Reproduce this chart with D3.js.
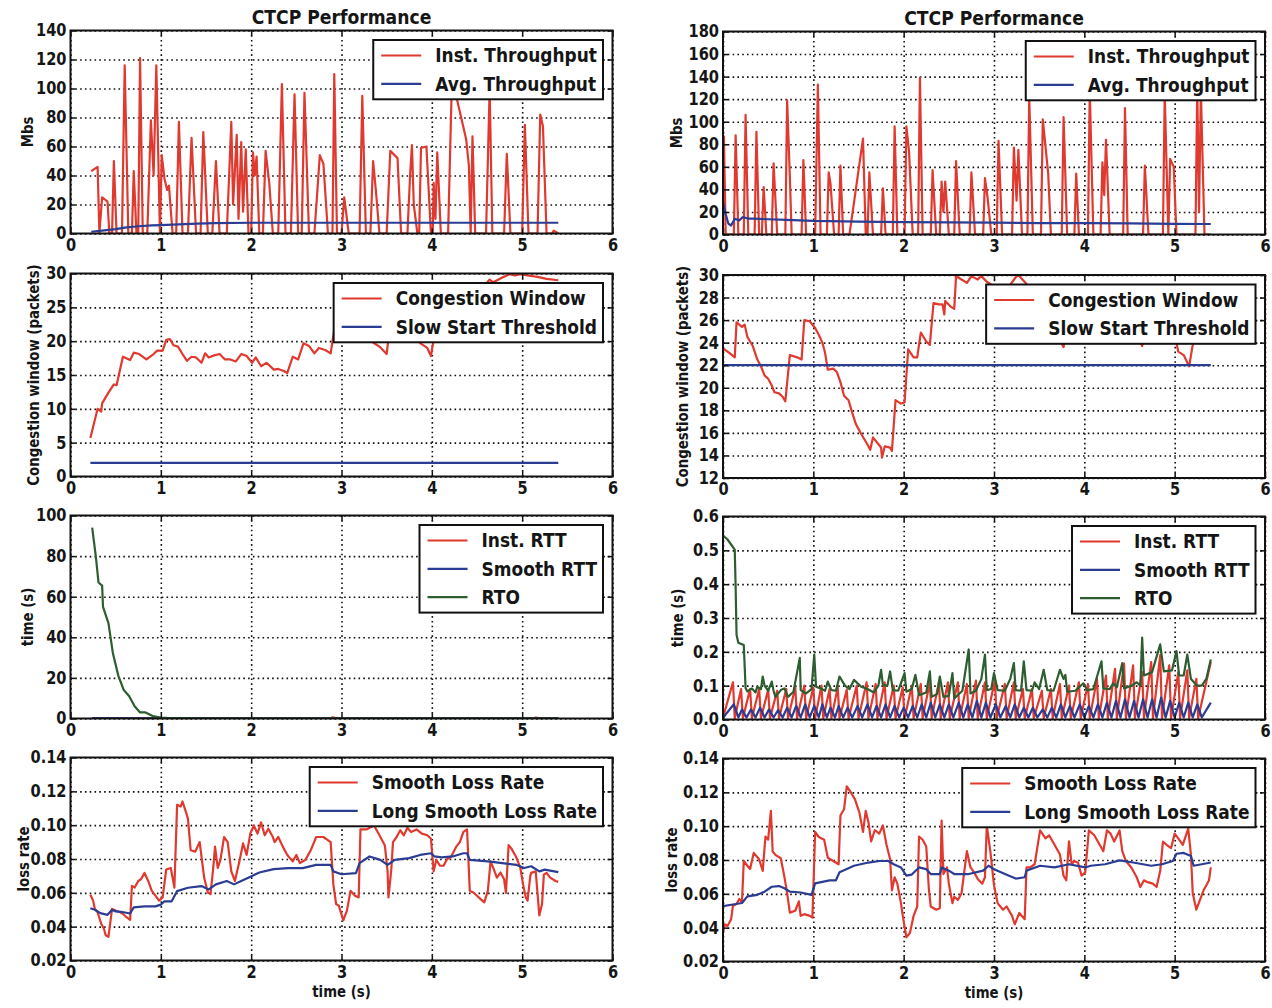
<!DOCTYPE html>
<html>
<head>
<meta charset="utf-8">
<script src="https://cdn.jsdelivr.net/npm/d3@7"></script>
<style>
  body { margin: 0; background: #fff; }
  text { font-family: "DejaVu Sans", "Liberation Sans", sans-serif; font-weight: bold; fill: #151515; }
</style>
</head>
<body>
<svg id="fig" width="1272" height="1008"></svg>
<script>
// ---------- tick values ----------
const timeTicks = [0, 1, 2, 3, 4, 5, 6];
const thrTicksL = [0, 20, 40, 60, 80, 100, 120, 140];
const thrTicksR = [0, 20, 40, 60, 80, 100, 120, 140, 160, 180];
const cwndTicksL = [0, 5, 10, 15, 20, 25, 30];
const cwndTicksR = [12, 14, 16, 18, 20, 22, 24, 26, 28, 30];
const rttTicksL = [0, 20, 40, 60, 80, 100];
const rttTicksR = [0, 0.1, 0.2, 0.3, 0.4, 0.5, 0.6];
const lossTicks = [0.02, 0.04, 0.06, 0.08, 0.10, 0.12, 0.14];

// ---------- throughput (Mbs), [time s, value] ----------
const thrInstL = [[0.23,43],[0.30,46],[0.32,0],[0.35,25],[0.41,22],[0.43,0],[0.46,0],[0.48,50],[0.51,0],[0.57,0],[0.60,116],[0.64,0],[0.68,0],[0.70,43],[0.73,0],[0.75,0],[0.77,121],[0.80,0],[0.85,0],[0.89,78],[0.92,40],[0.95,116],[0.99,0],[1.01,54],[1.04,38],[1.07,30],[1.09,33],[1.13,0],[1.17,0],[1.20,77],[1.24,0],[1.30,0],[1.34,66],[1.39,0],[1.44,0],[1.47,70],[1.52,0],[1.57,0],[1.61,50],[1.65,0],[1.73,0],[1.78,77],[1.80,20],[1.84,68],[1.86,10],[1.89,63],[1.91,15],[1.94,58],[1.97,0],[2.00,0],[2.02,56],[2.04,40],[2.06,53],[2.09,0],[2.13,0],[2.16,57],[2.20,35],[2.24,0],[2.30,0],[2.34,103],[2.38,0],[2.44,0],[2.48,96],[2.52,0],[2.56,0],[2.59,97],[2.64,0],[2.70,0],[2.76,54],[2.80,48],[2.85,0],[2.90,0],[2.92,110],[2.95,0],[3.00,0],[3.03,25],[3.08,0],[3.20,0],[3.23,95],[3.27,0],[3.32,0],[3.35,50],[3.38,30],[3.42,0],[3.50,0],[3.54,57],[3.62,52],[3.66,0],[3.73,0],[3.76,41],[3.78,61],[3.80,20],[3.84,0],[3.86,0],[3.88,59],[3.94,60],[3.99,0],[4.01,0],[4.02,35],[4.04,10],[4.06,56],[4.10,0],[4.18,0],[4.22,100],[4.28,92],[4.38,65],[4.41,47],[4.43,0],[4.45,67],[4.48,0],[4.60,0],[4.64,100],[4.67,0],[4.80,0],[4.83,55],[4.87,0],[5.00,0],[5.03,75],[5.07,0],[5.17,0],[5.20,82],[5.23,74],[5.27,0],[5.33,0],[5.35,2],[5.40,0]];
const thrAvgL = [[0.23,1.2],[0.35,2],[0.50,3],[0.60,4],[0.75,5],[0.90,5.6],[1.00,5.8],[1.20,6.3],[1.40,6.8],[1.60,7.2],[2.00,7.4],[3.00,7.4],[4.00,7.4],[5.40,7.4]];
const thrInstR = [[0,20],[0.01,87],[0.03,0],[0.12,0],[0.14,88],[0.17,0],[0.23,0],[0.25,106],[0.28,0],[0.35,0],[0.37,91],[0.40,0],[0.43,0],[0.45,42],[0.48,0],[0.54,0],[0.56,63],[0.60,0],[0.69,0],[0.71,119],[0.74,51],[0.76,0],[0.87,0],[0.89,66],[0.92,0],[1.02,0],[1.05,133],[1.08,0],[1.15,0],[1.17,55],[1.19,45],[1.23,0],[1.28,0],[1.30,61],[1.33,0],[1.40,0],[1.55,85],[1.58,0],[1.60,0],[1.62,55],[1.66,0],[1.75,0],[1.77,41],[1.80,0],[1.88,0],[1.90,96],[1.93,0],[2.01,0],[2.03,96],[2.06,73],[2.10,0],[2.16,0],[2.18,139],[2.21,0],[2.30,0],[2.32,57],[2.36,0],[2.40,0],[2.42,47],[2.44,20],[2.46,47],[2.50,0],[2.56,0],[2.58,65],[2.62,0],[2.73,0],[2.75,55],[2.79,0],[2.88,0],[2.90,50],[2.93,32],[2.97,0],[3.03,0],[3.05,83],[3.09,0],[3.20,0],[3.22,77],[3.25,30],[3.27,75],[3.31,0],[3.37,0],[3.39,122],[3.43,0],[3.52,0],[3.54,102],[3.60,54],[3.63,0],[3.75,0],[3.77,104],[3.81,0],[3.89,0],[3.91,54],[3.94,0],[4.04,0],[4.06,128],[4.10,0],[4.18,0],[4.20,64],[4.22,35],[4.24,84],[4.28,0],[4.43,0],[4.45,112],[4.48,0],[4.65,0],[4.67,61],[4.71,0],[4.87,0],[4.89,125],[4.93,0],[4.95,67],[4.99,60],[5.02,0],[5.23,0],[5.25,130],[5.27,20],[5.29,128],[5.33,0],[5.40,0]];
const thrAvgR = [[0,29],[0.03,18],[0.06,9.5],[0.09,8],[0.13,14],[0.18,12.5],[0.22,15.5],[0.28,14],[0.35,14],[0.50,13.5],[0.70,13],[1.00,12],[1.50,11.5],[2.00,11],[2.50,10.8],[3.00,10.5],[3.50,10],[4.00,10],[4.50,9.8],[5.00,9.5],[5.40,9.3]];

// ---------- congestion window (packets) ----------
const cwndL = [[0.22,5.7],[0.27,8.4],[0.30,10],[0.34,9.6],[0.35,10.8],[0.42,12.4],[0.48,13.6],[0.51,13.5],[0.58,17.7],[0.66,17.2],[0.70,18.3],[0.76,18.1],[0.84,17.3],[0.92,18.1],[0.96,18.6],[1.02,18.6],[1.06,20.2],[1.10,20.3],[1.14,19.4],[1.19,19.2],[1.24,18.1],[1.29,17.1],[1.34,17.7],[1.39,17.6],[1.45,16.8],[1.49,18.2],[1.53,17.6],[1.59,17.9],[1.65,18.1],[1.71,17.3],[1.77,17.3],[1.83,17.0],[1.89,18.1],[1.95,17.8],[2.01,16.8],[2.05,17.6],[2.11,16.3],[2.17,16.8],[2.25,15.8],[2.30,15.9],[2.36,15.6],[2.40,15.3],[2.46,17.7],[2.52,17.3],[2.58,19.7],[2.64,19.3],[2.70,18.2],[2.75,19.0],[2.82,18.7],[2.88,18.2],[2.92,21.7],[3.00,22.5],[3.10,23],[3.20,22],[3.30,21],[3.35,19.8],[3.42,19.2],[3.50,18.1],[3.53,21.5],[3.60,22.5],[3.70,22],[3.80,21],[3.87,19.7],[3.95,19.0],[3.99,17.8],[4.03,21],[4.15,23],[4.30,25],[4.45,27],[4.60,28.5],[4.64,29.1],[4.68,28.7],[4.78,29.4],[4.86,29.9],[4.92,29.7],[4.98,29.9],[5.06,29.7],[5.17,29.5],[5.27,29.2],[5.40,29.0]];
const ssthreshL = [[0.22,2],[5.40,2]];
const cwndR = [[0,23.5],[0.07,23.1],[0.13,22.7],[0.15,25.8],[0.21,25.4],[0.24,25.6],[0.27,24.5],[0.33,23.7],[0.38,22.5],[0.42,21.9],[0.46,21.1],[0.50,20.8],[0.54,20.2],[0.57,19.6],[0.62,19.5],[0.66,19.2],[0.69,18.8],[0.74,22.9],[0.82,22.7],[0.87,22.5],[0.90,26.0],[0.96,25.9],[1.02,25.3],[1.06,24.7],[1.10,24.0],[1.13,23.1],[1.16,21.6],[1.22,21.7],[1.26,21.4],[1.30,20.5],[1.34,19.3],[1.39,18.9],[1.43,17.8],[1.47,16.8],[1.53,15.9],[1.59,15.1],[1.63,14.5],[1.66,15.6],[1.71,15.1],[1.75,14.7],[1.76,13.8],[1.79,14.8],[1.85,14.7],[1.87,14.4],[1.91,18.9],[1.97,18.6],[2.01,18.7],[2.05,23.4],[2.11,22.7],[2.15,22.7],[2.19,24.9],[2.25,24.1],[2.29,23.8],[2.33,27.5],[2.39,27.4],[2.43,27.4],[2.45,26.5],[2.46,27.7],[2.52,27.2],[2.56,27.0],[2.58,29.9],[2.64,29.6],[2.70,29.3],[2.75,29.9],[2.82,29.6],[2.86,29.9],[2.92,29.4],[2.98,29.1],[3.05,28.5],[3.15,28.8],[3.24,29.8],[3.27,30],[3.35,29.3],[3.45,28],[3.55,26.5],[3.65,25],[3.73,24.2],[3.77,23.6],[3.80,25],[3.95,26],[4.10,27],[4.30,26],[4.50,25],[4.60,24.3],[4.64,23.7],[4.68,25],[4.80,26],[4.95,25],[5.02,24],[5.04,23.2],[5.10,22.9],[5.16,21.9],[5.20,23.8],[5.25,24.5],[5.32,25.5],[5.40,26]];
const ssthreshR = [[0,22],[5.40,22]];

// ---------- round trip times (s) ----------
const rttInstL = [[0.24,0.2],[1.0,0.15],[2.0,0.1],[2.88,0.1],[2.9,0.6],[2.95,0.1],[4.0,0.1],[5.13,0.1],[5.15,0.5],[5.2,0.1],[5.4,0.1]];
const rttSmoothL = [[0.24,0.15],[1.0,0.1],[5.4,0.1]];
const rtoL = [[0.24,94],[0.28,80],[0.31,67],[0.35,65.5],[0.36,55],[0.42,47],[0.47,32],[0.53,21],[0.59,14],[0.65,11],[0.71,6],[0.77,3],[0.83,3],[0.91,1.2],[1.0,0.5],[1.07,0.3],[1.47,0.1],[2.5,0.1],[3.5,0.1],[4.5,0.1],[5.4,0.1]];
const rttInstR = [[0,0.005],[0.11,0.11],[0.13,0.004],[0.2,0.09],[0.22,0.004],[0.3,0.09],[0.32,0.004],[0.4,0.09],[0.42,0.004],[0.5,0.088],[0.52,0.004],[0.6,0.085],[0.62,0.004],[0.7,0.09],[0.72,0.004],[0.8,0.095],[0.82,0.004],[0.9,0.1],[0.92,0.004],[1.0,0.095],[1.02,0.004],[1.09,0.1],[1.11,0.004],[1.18,0.09],[1.2,0.004],[1.27,0.095],[1.29,0.004],[1.37,0.088],[1.39,0.004],[1.48,0.1],[1.5,0.004],[1.59,0.11],[1.61,0.004],[1.69,0.105],[1.71,0.004],[1.79,0.11],[1.81,0.004],[1.89,0.1],[1.91,0.004],[1.99,0.095],[2.01,0.004],[2.09,0.1],[2.11,0.004],[2.19,0.105],[2.21,0.004],[2.29,0.11],[2.31,0.004],[2.39,0.11],[2.41,0.004],[2.49,0.11],[2.51,0.004],[2.6,0.11],[2.62,0.004],[2.7,0.105],[2.72,0.004],[2.8,0.115],[2.82,0.004],[2.9,0.11],[2.92,0.004],[3.01,0.115],[3.03,0.004],[3.12,0.105],[3.14,0.004],[3.22,0.11],[3.24,0.004],[3.32,0.09],[3.34,0.004],[3.42,0.09],[3.44,0.004],[3.53,0.085],[3.55,0.004],[3.63,0.09],[3.65,0.004],[3.73,0.105],[3.75,0.004],[3.83,0.1],[3.85,0.004],[3.94,0.11],[3.96,0.004],[4.04,0.105],[4.06,0.004],[4.14,0.12],[4.16,0.004],[4.24,0.13],[4.26,0.004],[4.34,0.15],[4.36,0.004],[4.44,0.165],[4.46,0.004],[4.54,0.16],[4.56,0.004],[4.64,0.14],[4.66,0.004],[4.74,0.17],[4.76,0.004],[4.84,0.19],[4.86,0.004],[4.94,0.16],[4.96,0.004],[5.04,0.14],[5.06,0.004],[5.14,0.145],[5.16,0.004],[5.24,0.12],[5.26,0.004],[5.4,0.17]];
const rttSmoothR = [[0,0.005],[0.12,0.045],[0.17,0.006],[0.21,0.03],[0.26,0.006],[0.31,0.03],[0.36,0.006],[0.41,0.035],[0.46,0.006],[0.51,0.03],[0.56,0.006],[0.61,0.028],[0.66,0.006],[0.71,0.035],[0.76,0.006],[0.81,0.04],[0.86,0.006],[0.91,0.045],[0.96,0.006],[1.01,0.04],[1.06,0.006],[1.1,0.045],[1.15,0.006],[1.19,0.035],[1.24,0.006],[1.28,0.04],[1.33,0.006],[1.38,0.035],[1.43,0.006],[1.49,0.04],[1.54,0.006],[1.6,0.045],[1.65,0.006],[1.7,0.04],[1.75,0.006],[1.8,0.045],[1.85,0.006],[1.9,0.04],[1.95,0.006],[2.0,0.035],[2.05,0.006],[2.1,0.04],[2.15,0.006],[2.2,0.045],[2.25,0.006],[2.3,0.05],[2.35,0.006],[2.4,0.045],[2.45,0.006],[2.5,0.045],[2.55,0.006],[2.61,0.05],[2.66,0.006],[2.71,0.045],[2.76,0.006],[2.81,0.055],[2.86,0.006],[2.91,0.05],[2.96,0.006],[3.02,0.045],[3.07,0.006],[3.13,0.04],[3.18,0.006],[3.23,0.045],[3.28,0.006],[3.33,0.035],[3.38,0.006],[3.43,0.035],[3.48,0.006],[3.54,0.03],[3.59,0.006],[3.64,0.035],[3.69,0.006],[3.74,0.045],[3.79,0.006],[3.84,0.04],[3.89,0.006],[3.95,0.045],[4.0,0.006],[4.05,0.04],[4.1,0.006],[4.15,0.045],[4.2,0.006],[4.25,0.05],[4.3,0.006],[4.35,0.055],[4.4,0.006],[4.45,0.06],[4.5,0.006],[4.55,0.055],[4.6,0.006],[4.65,0.06],[4.7,0.006],[4.75,0.06],[4.8,0.006],[4.85,0.065],[4.9,0.006],[4.95,0.055],[5.0,0.006],[5.05,0.05],[5.1,0.006],[5.15,0.05],[5.2,0.006],[5.25,0.045],[5.3,0.006],[5.4,0.05]];
const rtoR = [[0,0.544],[0.05,0.532],[0.13,0.502],[0.14,0.39],[0.15,0.25],[0.17,0.227],[0.23,0.22],[0.25,0.093],[0.27,0.083],[0.32,0.092],[0.36,0.08],[0.38,0.097],[0.42,0.09],[0.44,0.127],[0.46,0.10],[0.5,0.085],[0.54,0.112],[0.56,0.085],[0.58,0.067],[0.64,0.087],[0.68,0.092],[0.72,0.067],[0.78,0.082],[0.85,0.182],[0.86,0.087],[0.92,0.077],[0.98,0.09],[1.01,0.192],[1.03,0.097],[1.08,0.092],[1.13,0.085],[1.16,0.112],[1.2,0.087],[1.25,0.085],[1.29,0.127],[1.35,0.1],[1.4,0.09],[1.45,0.117],[1.53,0.097],[1.6,0.09],[1.67,0.08],[1.72,0.1],[1.75,0.147],[1.77,0.102],[1.82,0.1],[1.85,0.142],[1.88,0.087],[1.94,0.085],[2.01,0.137],[2.03,0.082],[2.09,0.09],[2.13,0.132],[2.17,0.072],[2.25,0.08],[2.29,0.142],[2.31,0.067],[2.37,0.075],[2.4,0.127],[2.44,0.067],[2.5,0.07],[2.54,0.137],[2.56,0.062],[2.65,0.085],[2.72,0.207],[2.74,0.077],[2.8,0.085],[2.86,0.12],[2.9,0.192],[2.92,0.087],[2.97,0.09],[3.0,0.137],[3.04,0.087],[3.12,0.085],[3.18,0.12],[3.22,0.167],[3.24,0.087],[3.3,0.085],[3.33,0.172],[3.36,0.087],[3.42,0.085],[3.45,0.11],[3.5,0.09],[3.55,0.147],[3.59,0.087],[3.66,0.085],[3.73,0.147],[3.77,0.12],[3.79,0.132],[3.81,0.082],[3.9,0.085],[3.99,0.107],[4.03,0.087],[4.1,0.09],[4.19,0.172],[4.21,0.092],[4.28,0.09],[4.32,0.107],[4.36,0.095],[4.42,0.167],[4.44,0.092],[4.52,0.1],[4.58,0.11],[4.62,0.1],[4.64,0.242],[4.66,0.13],[4.75,0.14],[4.84,0.222],[4.88,0.142],[4.97,0.145],[5.02,0.202],[5.05,0.13],[5.1,0.13],[5.14,0.192],[5.18,0.12],[5.25,0.1],[5.3,0.1],[5.35,0.12],[5.4,0.177]];

// ---------- loss rates ----------
const lossSmoothL = [[0.22,.0589],[0.25,.0554],[0.27,.0505],[0.30,.0485],[0.34,.0417],[0.37,.0388],[0.39,.0349],[0.42,.034],[0.46,.0505],[0.50,.0495],[0.55,.0485],[0.58,.0476],[0.62,.0456],[0.66,.044],[0.68,.0641],[0.71,.0631],[0.75,.067],[0.78,.068],[0.82,.0718],[0.86,.067],[0.90,.0612],[0.94,.0583],[0.98,.0554],[1.02,.0573],[1.06,.0738],[1.11,.0747],[1.15,.0631],[1.18,.112],[1.22,.111],[1.24,.114],[1.27,.109],[1.30,.104],[1.33,.0852],[1.38,.0843],[1.43,.090],[1.48,.0689],[1.52,.0602],[1.55,.0592],[1.58,.0747],[1.60,.0873],[1.63,.0747],[1.66,.0795],[1.70,.093],[1.74,.090],[1.78,.0727],[1.82,.067],[1.87,.0786],[1.91,.0892],[1.95,.0824],[1.99,.095],[2.03,.0998],[2.07,.095],[2.11,.1016],[2.15,.094],[2.19,.0979],[2.24,.093],[2.26,.090],[2.30,.093],[2.35,.0873],[2.40,.0824],[2.46,.0786],[2.50,.0824],[2.54,.0776],[2.60,.0795],[2.66,.0852],[2.72,.093],[2.80,.093],[2.88,.090],[2.91,.065],[2.94,.0534],[2.97,.0524],[3.02,.0437],[3.06,.0495],[3.10,.0612],[3.15,.0583],[3.19,.0573],[3.21,.0975],[3.28,.0975],[3.36,.0998],[3.42,.094],[3.48,.088],[3.51,.0727],[3.52,.0573],[3.55,.073],[3.57,.090],[3.61,.093],[3.65,.097],[3.69,.094],[3.73,.0985],[3.77,.096],[3.83,.0975],[3.89,.095],[3.95,.094],[3.99,.092],[4.02,.0727],[4.05,.0795],[4.09,.076],[4.13,.076],[4.17,.080],[4.21,.081],[4.27,.0873],[4.31,.090],[4.35,.096],[4.39,.0975],[4.42,.0612],[4.46,.0602],[4.50,.0583],[4.54,.0563],[4.58,.0544],[4.62,.0612],[4.65,.0786],[4.68,.0747],[4.72,.069],[4.76,.072],[4.80,.068],[4.82,.060],[4.85,.0882],[4.88,.0863],[4.93,.0815],[4.98,.0747],[5.01,.065],[5.04,.0573],[5.06,.0554],[5.09,.070],[5.10,.0718],[5.15,.0727],[5.19,.0466],[5.22,.0534],[5.24,.0708],[5.27,.0718],[5.31,.069],[5.37,.067],[5.40,.0665]];
const lossLongL = [[0.22,.0509],[0.27,.050],[0.33,.048],[0.41,.047],[0.46,.050],[0.50,.049],[0.56,.0488],[0.66,.0478],[0.70,.0514],[0.82,.052],[0.94,.052],[1.00,.053],[1.04,.055],[1.12,.055],[1.18,.061],[1.30,.063],[1.45,.064],[1.53,.062],[1.61,.065],[1.73,.067],[1.81,.065],[1.89,.067],[2.01,.070],[2.09,.072],[2.25,.074],[2.41,.0746],[2.57,.0746],[2.72,.0765],[2.88,.0765],[2.91,.0727],[3.00,.071],[3.16,.0717],[3.20,.0776],[3.31,.0815],[3.43,.0795],[3.51,.0765],[3.59,.0795],[3.75,.0805],[3.87,.0824],[3.99,.0834],[4.03,.0815],[4.11,.081],[4.23,.0815],[4.35,.0834],[4.39,.0834],[4.42,.0795],[4.62,.0786],[4.78,.0776],[4.94,.0765],[5.02,.0747],[5.10,.0757],[5.19,.0727],[5.25,.0737],[5.40,.0722]];
const lossSmoothR = [[0,.037],[0.02,.042],[0.05,.041],[0.09,.045],[0.11,.053],[0.15,.054],[0.18,.057],[0.21,.055],[0.23,.0795],[0.27,.0766],[0.30,.0747],[0.34,.0842],[0.40,.0804],[0.44,.0736],[0.47,.0939],[0.50,.092],[0.53,.109],[0.55,.085],[0.58,.083],[0.64,.081],[0.68,.070],[0.71,.0604],[0.74,.0489],[0.80,.050],[0.84,.0556],[0.86,.047],[0.90,.048],[0.96,.047],[0.99,.046],[1.02,.0966],[1.06,.0936],[1.12,.092],[1.16,.0813],[1.22,.0794],[1.28,.0775],[1.30,.1063],[1.34,.110],[1.37,.1235],[1.41,.1205],[1.46,.116],[1.51,.108],[1.55,.0966],[1.58,.109],[1.61,.1023],[1.64,.091],[1.68,.0976],[1.73,.0956],[1.77,.1004],[1.81,.089],[1.85,.0804],[1.87,.0621],[1.90,.0698],[1.93,.066],[1.97,.0545],[1.99,.047],[2.03,.0343],[2.07,.037],[2.11,.047],[2.15,.0525],[2.17,.0939],[2.21,.092],[2.25,.088],[2.28,.062],[2.30,.0525],[2.36,.0506],[2.40,.0515],[2.42,.1033],[2.44,.0717],[2.48,.0756],[2.50,.066],[2.54,.0545],[2.56,.0583],[2.60,.0564],[2.64,.0602],[2.70,.0852],[2.74,.0756],[2.78,.0727],[2.82,.0688],[2.87,.066],[2.90,.0698],[2.92,.1004],[2.96,.085],[3.00,.065],[3.04,.0545],[3.10,.0506],[3.14,.0525],[3.20,.047],[3.23,.042],[3.28,.0487],[3.34,.045],[3.36,.0756],[3.40,.0756],[3.45,.0775],[3.51,.0975],[3.57,.0928],[3.61,.0946],[3.67,.089],[3.73,.0832],[3.77,.0707],[3.80,.068],[3.83,.091],[3.86,.0775],[3.89,.0794],[3.93,.0784],[3.97,.0707],[4.01,.0727],[4.05,.0975],[4.11,.0946],[4.17,.089],[4.21,.0852],[4.25,.0975],[4.29,.0956],[4.33,.0909],[4.39,.0975],[4.42,.0852],[4.46,.0794],[4.52,.0756],[4.58,.0698],[4.62,.064],[4.66,.068],[4.70,.0669],[4.76,.066],[4.80,.064],[4.84,.0736],[4.87,.0909],[4.91,.089],[4.96,.087],[5.00,.0956],[5.04,.0928],[5.09,.089],[5.15,.0985],[5.18,.0832],[5.20,.0604],[5.24,.0506],[5.28,.0564],[5.32,.0621],[5.36,.066],[5.38,.068],[5.40,.0756]];
const lossLongR = [[0,.0527],[0.11,.0537],[0.21,.0546],[0.27,.0585],[0.38,.0594],[0.46,.0613],[0.54,.0642],[0.62,.0646],[0.68,.0633],[0.74,.0613],[0.86,.0608],[0.98,.0594],[1.02,.0662],[1.10,.0671],[1.18,.068],[1.25,.068],[1.29,.0728],[1.37,.0747],[1.45,.0766],[1.61,.0785],[1.73,.0794],[1.83,.0794],[1.89,.0775],[1.97,.0756],[2.03,.0708],[2.09,.0714],[2.17,.0756],[2.25,.0746],[2.30,.0717],[2.40,.0717],[2.42,.0756],[2.50,.0737],[2.56,.0717],[2.72,.0717],[2.88,.0737],[2.94,.0766],[3.00,.0746],[3.16,.0708],[3.24,.069],[3.34,.0698],[3.36,.0737],[3.51,.0766],[3.67,.0756],[3.83,.0775],[4.01,.0756],[4.07,.0766],[4.23,.0775],[4.39,.0798],[4.54,.0785],[4.74,.0766],[4.86,.0775],[4.98,.0794],[5.02,.0837],[5.10,.0842],[5.18,.0823],[5.21,.0766],[5.30,.0775],[5.40,.0785]];

// ---------- styling ----------
const RED = "#e0392f", BLUE = "#2a3d92", GREEN = "#2d5e30";
const SQUEEZE = 0.86;            // narrow bold lettering
const plotW = 542, plotH = 203;
const colLeft = [70.5, 723];
const rowTop = [[30.5, 273.5, 515.5, 757.5], [31.5, 275, 516.5, 758.5]];
const ylabelOffset = [[-43, -37, -43, -47], [-46, -40, -45, -51]];

const f0 = d3.format("d"), f1 = d3.format(".1f"), f2 = d3.format(".2f");

const panels = [
  {col:0,row:0,dom:[0,140],ticks:thrTicksL,fmt:f0,ylabel:"Mbs",
   series:[{d:thrInstL,c:RED,n:"Inst. Throughput"},{d:thrAvgL,c:BLUE,n:"Avg. Throughput"}]},
  {col:1,row:0,dom:[0,180],ticks:thrTicksR,fmt:f0,ylabel:"Mbs",
   series:[{d:thrInstR,c:RED,n:"Inst. Throughput"},{d:thrAvgR,c:BLUE,n:"Avg. Throughput"}]},
  {col:0,row:1,dom:[0,30],ticks:cwndTicksL,fmt:f0,ylabel:"Congestion window (packets)",
   series:[{d:cwndL,c:RED,n:"Congestion Window"},{d:ssthreshL,c:BLUE,n:"Slow Start Threshold"}]},
  {col:1,row:1,dom:[12,30],ticks:cwndTicksR,fmt:f0,ylabel:"Congestion window (packets)",
   series:[{d:cwndR,c:RED,n:"Congestion Window"},{d:ssthreshR,c:BLUE,n:"Slow Start Threshold"}]},
  {col:0,row:2,dom:[0,100],ticks:rttTicksL,fmt:f0,ylabel:"time (s)",
   series:[{d:rttInstL,c:RED,n:"Inst. RTT"},{d:rttSmoothL,c:BLUE,n:"Smooth RTT"},{d:rtoL,c:GREEN,n:"RTO"}]},
  {col:1,row:2,dom:[0,0.6],ticks:rttTicksR,fmt:f1,ylabel:"time (s)",
   series:[{d:rttInstR,c:RED,n:"Inst. RTT"},{d:rttSmoothR,c:BLUE,n:"Smooth RTT"},{d:rtoR,c:GREEN,n:"RTO"}]},
  {col:0,row:3,dom:[0.02,0.14],ticks:lossTicks,fmt:f2,ylabel:"loss rate",xlabel:"time (s)",
   series:[{d:lossSmoothL,c:RED,n:"Smooth Loss Rate"},{d:lossLongL,c:BLUE,n:"Long Smooth Loss Rate"}]},
  {col:1,row:3,dom:[0.02,0.14],ticks:lossTicks,fmt:f2,ylabel:"loss rate",xlabel:"time (s)",
   series:[{d:lossSmoothR,c:RED,n:"Smooth Loss Rate"},{d:lossLongR,c:BLUE,n:"Long Smooth Loss Rate"}]}
];

const svg = d3.select("#fig");

// place a horizontally narrowed text at (x, y); extra is appended after the scale (e.g. rotation)
function narrowText(parent, x, y, str, size, anchor, rotate) {
  const t = parent.append("text")
    .attr("transform", `translate(${x},${y})${rotate ? ` rotate(${rotate})` : ""} scale(${SQUEEZE},1)`)
    .attr("text-anchor", anchor).attr("dominant-baseline", "central")
    .attr("font-size", size).text(str);
  return t;
}

panels.forEach((p, i) => {
  const x0 = colLeft[p.col], y0 = rowTop[p.col][p.row];
  const x = d3.scaleLinear().domain([0, 6]).range([0, plotW]);
  const y = d3.scaleLinear().domain(p.dom).range([plotH, 0]);
  const g = svg.append("g").attr("transform", `translate(${x0},${y0})`);

  g.append("defs").append("clipPath").attr("id", "clip" + i)
    .append("rect").attr("x", 0).attr("y", 0).attr("width", plotW).attr("height", plotH);

  // dotted grid
  const gx = g.append("g").attr("transform", `translate(0,${plotH})`)
    .call(d3.axisBottom(x).tickValues(timeTicks).tickSize(-plotH).tickFormat(""));
  const gy = g.append("g")
    .call(d3.axisLeft(y).tickValues(p.ticks).tickSize(-plotW).tickFormat(""));
  [gx, gy].forEach(a => {
    a.select(".domain").remove();
    a.selectAll("line").attr("stroke", "#111").attr("stroke-width", 1.6).attr("stroke-dasharray", "1.6,3.2");
  });

  // data lines
  const line = d3.line().x(d => x(d[0])).y(d => y(d[1]));
  const lines = g.append("g").attr("clip-path", `url(#clip${i})`);
  p.series.forEach(s => {
    lines.append("path").datum(s.d).attr("d", line)
      .attr("fill", "none").attr("stroke", s.c).attr("stroke-width", 2.2)
      .attr("stroke-linejoin", "round");
  });

  // inward tick marks on all four sides
  const tk = [
    g.append("g").call(d3.axisLeft(y).tickValues(p.ticks).tickSize(-5).tickFormat("")),
    g.append("g").attr("transform", `translate(${plotW},0)`).call(d3.axisRight(y).tickValues(p.ticks).tickSize(-5).tickFormat("")),
    g.append("g").attr("transform", `translate(0,${plotH})`).call(d3.axisBottom(x).tickValues(timeTicks).tickSize(-5).tickFormat("")),
    g.append("g").call(d3.axisTop(x).tickValues(timeTicks).tickSize(-5).tickFormat(""))
  ];
  tk.forEach(a => { a.select(".domain").remove(); a.selectAll("line").attr("stroke", "#111").attr("stroke-width", 1.5); });

  // tick labels (narrowed around each tick's anchor)
  const ly = g.append("g").call(d3.axisLeft(y).tickValues(p.ticks).tickSize(0).tickPadding(4).tickFormat(p.fmt));
  const lx = g.append("g").attr("transform", `translate(0,${plotH})`)
    .call(d3.axisBottom(x).tickValues(timeTicks).tickSize(0).tickPadding(5).tickFormat(f0));
  [ly, lx].forEach(a => {
    a.select(".domain").remove();
    a.selectAll("text").attr("font-size", 17).attr("font-family", null).attr("fill", "#151515")
      .attr("transform", `scale(${SQUEEZE},1)`)
      .attr("x", function () { return +d3.select(this).attr("x") / SQUEEZE || 0; });
  });

  // frame
  g.append("rect").attr("width", plotW).attr("height", plotH)
    .attr("fill", "none").attr("stroke", "#111").attr("stroke-width", 2);

  // axis labels
  narrowText(g, ylabelOffset[p.col][p.row], plotH / 2, p.ylabel, 15.5, "middle", -90);
  if (p.xlabel) narrowText(g, plotW / 2, plotH + 31, p.xlabel, 15.5, "middle");

  // legend
  const lg = g.append("g");
  const box = lg.append("rect").attr("fill", "#fff").attr("stroke", "#111").attr("stroke-width", 2);
  const pad = 15.5, step = 28.3;
  let tw = 0;
  p.series.forEach((s, k) => {
    const it = lg.append("g").attr("transform", `translate(0,${pad + k * step})`);
    it.append("line").attr("x1", 8).attr("x2", 48).attr("stroke", s.c).attr("stroke-width", 2.2);
    const t = narrowText(it, 62, 0, s.n, 19.8, "start");
    tw = Math.max(tw, t.node().getComputedTextLength() * SQUEEZE);
  });
  const bw = 62 + tw + 6, bh = pad * 2 + step * (p.series.length - 1);
  box.attr("width", bw).attr("height", bh);
  lg.attr("transform", `translate(${plotW - 9.5 - bw},9.5)`);

  // column title
  if (p.row === 0) narrowText(g, plotW / 2, -13, "CTCP Performance", 20, "middle");
});
</script>
</body>
</html>
